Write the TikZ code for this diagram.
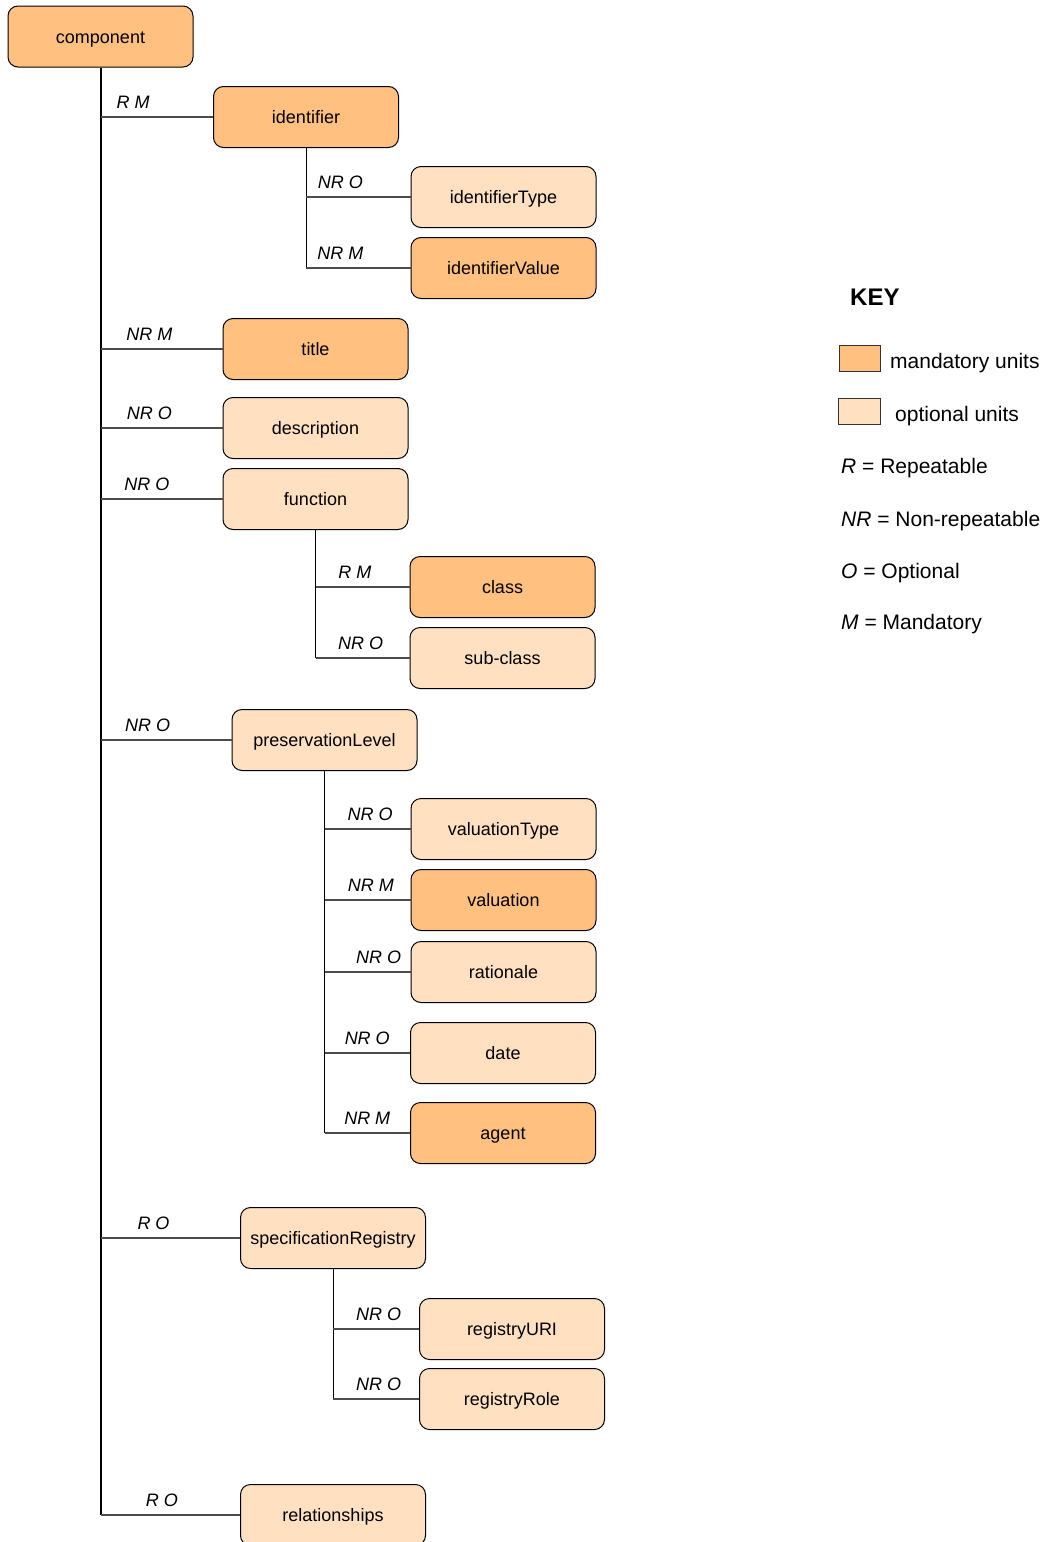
\documentclass[tikz,border=0pt]{standalone}
\usepackage{fontspec}
\setmainfont{Liberation Sans}
\usetikzlibrary{positioning}
\definecolor{mandfill}{RGB}{255,192,128}
\definecolor{optfill}{RGB}{255,224,192}

\begin{document}
\begin{tikzpicture}[x=1pt,y=-1pt,
    every node/.style={font=\fontsize{18}{22}\selectfont},
    unit/.style={draw=black,line width=1pt,rounded corners=10pt,minimum width=185pt,
                 minimum height=61pt,inner sep=0pt,text height=13pt,text depth=0pt},
    mand/.style={unit,fill=mandfill},
    opt/.style={unit,fill=optfill},
    lbl/.style={font=\fontsize{18}{22}\selectfont\itshape,anchor=base,
                yshift=9pt,inner sep=0pt},
    trunk/.style={line width=2pt},
    subtrunk/.style={line width=1pt},
    branch/.style={draw=black!70,line width=1.3pt},
    keytext/.style={font=\fontsize{21}{25}\selectfont,anchor=base west,inner sep=0pt}]

    \useasboundingbox (0,0) rectangle (1047,1542);

    % units
    \node[mand] (comp)   at (100.5,36.5) {component};
    \node[mand] (ident)  at (306,117)    {identifier};
    \node[opt]  (idtype) at (503.5,197)  {identifierType};
    \node[mand] (idval)  at (503.5,268)  {identifierValue};
    \node[mand] (title)  at (315.5,349)  {title};
    \node[opt]  (desc)   at (315.5,428)  {description};
    \node[opt]  (func)   at (315.5,499)  {function};
    \node[mand] (class)  at (502.5,587)  {class};
    \node[opt]  (subcl)  at (502.5,658)  {sub-class};
    \node[opt]  (pres)   at (324.5,740)  {preservationLevel};
    \node[opt]  (valtype) at (503.5,829) {valuationType};
    \node[mand] (val)    at (503.5,900)  {valuation};
    \node[opt]  (ratio)  at (503.5,972)  {rationale};
    \node[opt]  (date)   at (503,1053)   {date};
    \node[mand] (agent)  at (503,1133)   {agent};
    \node[opt]  (spec)   at (333,1238)   {specificationRegistry};
    \node[opt]  (reguri) at (512,1329)   {registryURI};
    \node[opt]  (regrole) at (512,1399)  {registryRole};
    \node[opt]  (rel)    at (333,1515)   {relationships};

    % trunks
    \draw[trunk] (comp.south) -- (comp.south |- rel.west);
    \draw[subtrunk] (ident.south) -- (ident.south |- idval.west);
    \draw[subtrunk] (func.south) -- (func.south |- subcl.west);
    \draw[subtrunk] (pres.south) -- (pres.south |- agent.west);
    \draw[subtrunk] (spec.south) -- (spec.south |- regrole.west);

    \path[branch]
    (comp.south |- ident.west)  edge node[lbl,pos=.29] {R M}  (ident.west)
    (comp.south |- title.west)  edge node[lbl,pos=.40] {NR M} (title.west)
    (comp.south |- desc.west)   edge node[lbl,pos=.40] {NR O} (desc.west)
    (comp.south |- func.west)   edge node[lbl,pos=.38] {NR O} (func.west)
    (comp.south |- pres.west)   edge node[lbl,pos=.36] {NR O} (pres.west)
    (comp.south |- spec.west)   edge node[lbl,pos=.38] {R O}  (spec.west)
    (comp.south |- rel.west)    edge node[lbl,pos=.44] {R O}  (rel.west)

    (ident.south |- idtype.west) edge node[lbl,pos=.33] {NR O} (idtype.west)
    (ident.south |- idval.west)  edge node[lbl,pos=.33] {NR M} (idval.west)

    (func.south |- class.west)   edge node[lbl,pos=.42] {R M}  (class.west)
    (func.south |- subcl.west)   edge node[lbl,pos=.48] {NR O} (subcl.west)

    (pres.south |- valtype.west) edge node[lbl,pos=.53] {NR O} (valtype.west)
    (pres.south |- val.west)     edge node[lbl,pos=.54] {NR M} (val.west)
    (pres.south |- ratio.west)   edge node[lbl,pos=.63] {NR O} (ratio.west)
    (pres.south |- date.west)    edge node[lbl,pos=.50] {NR O} (date.west)
    (pres.south |- agent.west)   edge node[lbl,pos=.50] {NR M} (agent.west)

    (spec.south |- reguri.west)  edge node[lbl,pos=.53] {NR O} (reguri.west)
    (spec.south |- regrole.west) edge node[lbl,pos=.53] {NR O} (regrole.west)
    ;

    % key
    \node[font=\fontsize{24}{28}\selectfont\bfseries,anchor=base west,inner sep=0pt]
        (key) at (850,305) {KEY};
    \node[draw=black!80,fill=mandfill,minimum width=41pt,minimum height=26pt,inner sep=0pt]
        (mandkey) at (859.5,358) {};
    \node[draw=black!80,fill=optfill,minimum width=42pt,minimum height=26pt,inner sep=0pt]
        (optkey) at (859,411) {};
    \node[keytext] (mandtxt) at (890,368) {mandatory units};
    \node[keytext] (opttxt)  at (895,421) {optional units};
    \node[keytext] (rtxt)    at (841,473) {\textit{R} = Repeatable};
    \node[keytext] (nrtxt)   at (841,526) {\textit{NR} = Non-repeatable};
    \node[keytext] (otxt)    at (841,578) {\textit{O} = Optional};
    \node[keytext] (mtxt)    at (841,629) {\textit{M} = Mandatory};
\end{tikzpicture}
\end{document}
